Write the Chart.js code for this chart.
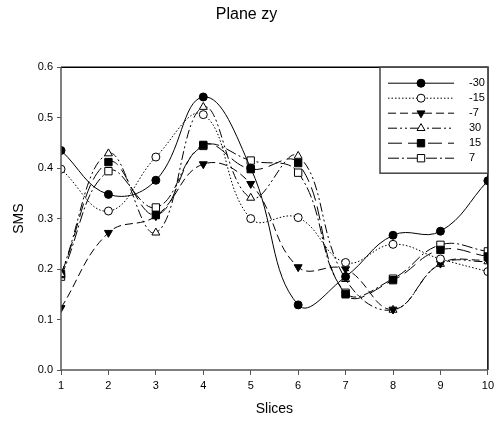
<!DOCTYPE html>
<html>
<head>
<meta charset="utf-8">
<script src="https://cdn.jsdelivr.net/npm/chart.js@4/dist/chart.umd.min.js"></script>
<style>
  html, body { margin: 0; padding: 0; background: #fff; }
  #wrap { width: 498px; height: 421px; }
</style>
</head>
<body>
<div id="wrap"><canvas id="chart" width="498" height="421"></canvas></div>
<script>
const slices = [1, 2, 3, 4, 5, 6, 7, 8, 9, 10];
const yTicks = [0.0, 0.1, 0.2, 0.3, 0.4, 0.5, 0.6];

const seriesNames = ["-30", "-15", "-7", "30", "15", "7"];
const valsM30 = [0.435, 0.348, 0.376, 0.541, 0.400, 0.129, 0.185, 0.267, 0.275, 0.375];
const valsM15 = [0.398, 0.315, 0.422, 0.506, 0.300, 0.302, 0.213, 0.249, 0.220, 0.195];
const valsM7 = [0.123, 0.272, 0.305, 0.408, 0.369, 0.204, 0.200, 0.120, 0.211, 0.218];
const vals30 = [0.190, 0.429, 0.272, 0.521, 0.341, 0.424, 0.180, 0.119, 0.210, 0.215];
const vals15 = [0.190, 0.412, 0.307, 0.446, 0.398, 0.410, 0.150, 0.178, 0.238, 0.225];
const vals7 = [0.185, 0.394, 0.322, 0.444, 0.415, 0.391, 0.153, 0.181, 0.248, 0.235];

const FONT = "'Liberation Sans', Arial, sans-serif";

// line + marker look for each series
const styles = [
  { dash: [], point: "circle", fill: "#000", radius: 4, rot: 0 },
  { dash: [1.5, 2], point: "circle", fill: "#fff", radius: 4, rot: 0 },
  { dash: [8, 4], point: "triangle", fill: "#000", radius: 4.6, rot: 180 },
  { dash: [9, 3, 2, 3, 2, 3], point: "triangle", fill: "#fff", radius: 4.6, rot: 0 },
  { dash: [14, 6], point: "rect", fill: "#000", radius: 5.2, rot: 0 },
  { dash: [11, 3, 2, 3], point: "rect", fill: "#fff", radius: 5.2, rot: 0 },
];

const allValues = [valsM30, valsM15, valsM7, vals30, vals15, vals7];

const datasets = allValues.map((vals, i) => ({
  label: seriesNames[i],
  data: slices.map((s, j) => ({ x: s, y: vals[j] })),
  borderColor: "#000",
  borderWidth: 1,
  borderDash: styles[i].dash,
  tension: 0.42,
  pointStyle: styles[i].point,
  pointRadius: styles[i].radius,
  pointRotation: styles[i].rot,
  pointBackgroundColor: styles[i].fill,
  pointBorderColor: "#000",
  pointBorderWidth: 1,
  fill: false,
}));

// frame around the plot + legend box inside the top right corner
const framePlugin = {
  id: "frameAndLegend",
  afterDatasetsDraw(chart) {
    const { ctx, chartArea: a } = chart;
    ctx.save();
    ctx.setLineDash([]);
    ctx.lineWidth = 1.5;
    ctx.strokeStyle = "#000";
    ctx.beginPath();
    ctx.moveTo(a.left, a.top);
    ctx.lineTo(a.right, a.top);
    ctx.lineTo(a.right, a.bottom);
    ctx.stroke();
    ctx.strokeStyle = "#555";
    ctx.beginPath();
    ctx.moveTo(a.left, a.top);
    ctx.lineTo(a.left, a.bottom);
    ctx.lineTo(a.right, a.bottom);
    ctx.stroke();

    // legend
    const bx = 380, by = a.top, bw = a.right - 380, bh = 106;
    ctx.fillStyle = "#fff";
    ctx.fillRect(bx, by, bw, bh);
    ctx.strokeStyle = "#444";
    ctx.lineWidth = 1.5;
    ctx.strokeRect(bx, by, bw, bh);
    ctx.font = "11px " + FONT;
    ctx.textBaseline = "middle";
    ctx.textAlign = "left";
    seriesNames.forEach((name, i) => {
      const y = by + 16 + i * 15;
      const st = styles[i];
      ctx.lineWidth = 1;
      ctx.strokeStyle = "#000";
      ctx.setLineDash(st.dash);
      ctx.beginPath();
      ctx.moveTo(388, y);
      ctx.lineTo(454, y);
      ctx.stroke();
      ctx.setLineDash([]);
      ctx.fillStyle = st.fill;
      Chart.helpers.drawPoint(ctx, {
        pointStyle: st.point, radius: st.radius, rotation: st.rot, borderWidth: 1,
      }, 421, y);
      ctx.fillStyle = "#000";
      ctx.fillText(name, 469, y);
    });
    ctx.restore();
  },
};

new Chart(document.getElementById("chart"), {
  type: "line",
  data: { datasets },
  plugins: [framePlugin],
  options: {
    responsive: false,
    devicePixelRatio: 1,
    animation: false,
    layout: { autoPadding: false, padding: { left: 0, right: 5, top: 0, bottom: 0 } },
    plugins: {
      legend: { display: false },
      tooltip: { enabled: false },
      title: {
        display: true,
        text: "Plane zy",
        color: "#000",
        font: { family: FONT, size: 16, weight: "normal" },
        padding: { top: 5, bottom: 43 },
      },
    },
    scales: {
      x: {
        type: "linear",
        min: 1,
        max: 10,
        afterFit: (s) => { s.height = 51; },
        afterBuildTicks: (s) => { s.ticks = slices.map((v) => ({ value: v })); },
        ticks: { color: "#000", font: { family: FONT, size: 11 }, padding: 4 },
        grid: { drawOnChartArea: false, tickLength: 5, color: "#555", lineWidth: 1 },
        border: { display: false },
        title: {
          display: true,
          text: "Slices",
          color: "#000",
          font: { family: FONT, size: 14 },
          padding: { top: 0, bottom: 3 },
        },
      },
      y: {
        min: 0,
        max: 0.6,
        afterFit: (s) => { s.width = 61; },
        afterBuildTicks: (s) => { s.ticks = yTicks.map((v) => ({ value: v })); },
        ticks: {
          color: "#000",
          font: { family: FONT, size: 11 },
          padding: 4,
          callback: (v) => Number(v).toFixed(1),
        },
        grid: { drawOnChartArea: false, tickLength: 4, color: "#555", lineWidth: 1 },
        border: { display: false },
        title: {
          display: true,
          text: "SMS",
          color: "#000",
          font: { family: FONT, size: 14 },
          padding: { top: 11, bottom: 0 },
        },
      },
    },
  },
});
</script>
</body>
</html>
